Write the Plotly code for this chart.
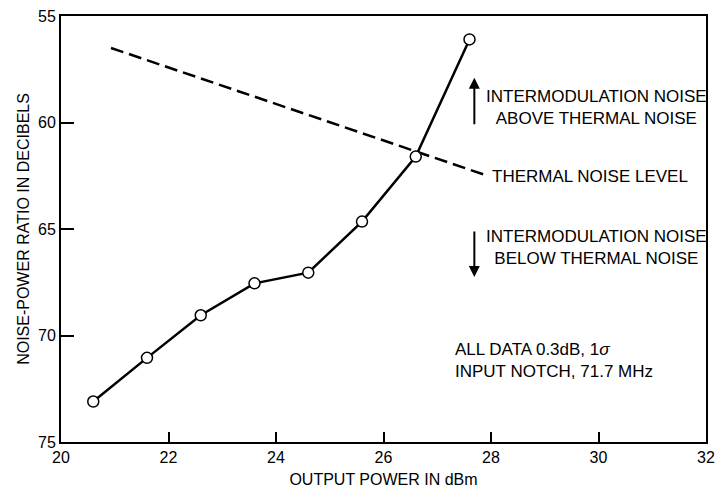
import plotly.graph_objects as go

# Measured noise-power ratio vs. output power
output_power_dbm = [20.6, 21.6, 22.6, 23.6, 24.6, 25.6, 26.6, 27.6]
npr_db = [73.1, 71.05, 69.05, 67.55, 67.05, 64.65, 61.6, 56.1]

# Thermal noise level reference line (end points)
thermal_x = [20.93, 27.9]
thermal_y = [56.5, 62.47]

x_ticks = [20, 22, 24, 26, 28, 30, 32]
y_ticks = [55, 60, 65, 70, 75]

FONT = "Liberation Sans, Arial, Helvetica, sans-serif"

fig = go.Figure()

fig.add_trace(go.Scatter(
    x=thermal_x, y=thermal_y, mode="lines",
    line=dict(color="black", width=2.5, dash="13px,6px"),
    hoverinfo="skip", showlegend=False,
))

fig.add_trace(go.Scatter(
    x=output_power_dbm, y=npr_db, mode="lines+markers",
    line=dict(color="black", width=2.5),
    marker=dict(symbol="circle", size=11, color="white",
                line=dict(color="black", width=1.5)),
    showlegend=False,
))

text_font = dict(family=FONT, size=17, color="black")

annotations = [
    # arrows
    dict(x=27.69, y=57.9, ax=27.69, ay=60.15, xref="x", yref="y", axref="x", ayref="y",
         showarrow=True, arrowhead=2, arrowsize=1.1, arrowwidth=2, arrowcolor="black", text=""),
    dict(x=27.69, y=67.25, ax=27.69, ay=65.05, xref="x", yref="y", axref="x", ayref="y",
         showarrow=True, arrowhead=2, arrowsize=1.1, arrowwidth=2, arrowcolor="black", text=""),
    # labels
    dict(x=29.97, y=59.28, xref="x", yref="y", showarrow=False, align="center",
         text="INTERMODULATION NOISE<br>ABOVE THERMAL NOISE", font=text_font),
    dict(x=29.97, y=65.88, xref="x", yref="y", showarrow=False, align="center",
         text="INTERMODULATION NOISE<br>BELOW THERMAL NOISE", font=text_font),
    dict(x=27.98, y=62.55, xref="x", yref="y", showarrow=False, xanchor="left",
         text="THERMAL NOISE LEVEL", font=text_font),
    dict(x=27.3, y=71.15, xref="x", yref="y", showarrow=False, xanchor="left", align="left",
         text="ALL DATA 0.3dB, 1<i>σ</i><br>INPUT NOTCH, 71.7 MHz", font=text_font),
]

fig.update_layout(
    width=723, height=494,
    margin=dict(l=61, r=8, t=12, b=51),
    paper_bgcolor="white", plot_bgcolor="white",
    font=dict(family=FONT, size=16, color="black"),
    annotations=annotations,
    xaxis=dict(
        range=[20, 32], tickvals=x_ticks, ticks="inside", ticklen=10, tickwidth=1.5,
        tickcolor="black", showline=True, linecolor="black", linewidth=2, mirror=True,
        showgrid=False, zeroline=False, tickfont=dict(size=16),
        title=dict(text="OUTPUT POWER IN dBm", font=dict(size=16), standoff=9),
    ),
    yaxis=dict(
        range=[75, 55], tickvals=y_ticks, ticks="inside", ticklen=13, tickwidth=1.5,
        tickcolor="black", showline=True, linecolor="black", linewidth=2, mirror=True,
        showgrid=False, zeroline=False, tickfont=dict(size=16),
        title=dict(text="NOISE-POWER RATIO IN DECIBELS", font=dict(size=16), standoff=4),
    ),
)

fig.write_html("out.html")
